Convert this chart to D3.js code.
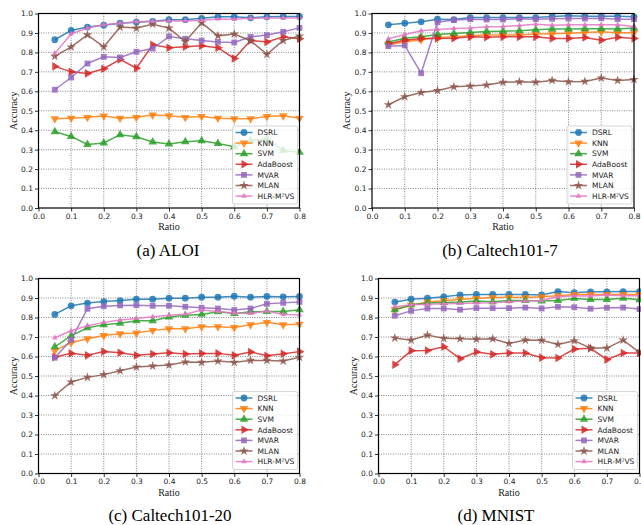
<!DOCTYPE html>
<html>
<head>
<meta charset="utf-8">
<script src="https://cdn.jsdelivr.net/npm/d3@7"></script>
<style>
  body { margin: 0; background: #fff; }
  .tick text { font-family: "DejaVu Sans", sans-serif; font-size: 7.5px; fill: #222; }
  .axisLabel { font-family: "Liberation Serif", serif; font-size: 10px; fill: #222; }
  .caption { font-family: "Liberation Serif", serif; font-size: 17px; fill: #000; }
  .legendText { font-family: "DejaVu Sans", sans-serif; font-size: 7.5px; fill: #222; }
</style>
</head>
<body>
<div id="chart"></div>
<script>
// Shared x values and method names
var ratios = [0.05, 0.10, 0.15, 0.20, 0.25, 0.30, 0.35, 0.40, 0.45, 0.50, 0.55, 0.60, 0.65, 0.70, 0.75, 0.80];
var methods = ["DSRL", "KNN", "SVM", "AdaBoost", "MVAR", "MLAN", "HLR-M²VS"];
var xTicks = [0.0, 0.1, 0.2, 0.3, 0.4, 0.5, 0.6, 0.7, 0.8];
var yTicks = [0.0, 0.1, 0.2, 0.3, 0.4, 0.5, 0.6, 0.7, 0.8, 0.9, 1.0];
var captions = ["(a) ALOI", "(b) Caltech101-7", "(c) Caltech101-20", "(d) MNIST"];

// Accuracy per method, same order as methods
var aloiAcc = [
  [0.865, 0.913, 0.930, 0.940, 0.950, 0.955, 0.960, 0.968, 0.968, 0.975, 0.983, 0.983, 0.978, 0.983, 0.985, 0.985],
  [0.459, 0.462, 0.466, 0.473, 0.462, 0.466, 0.478, 0.474, 0.466, 0.471, 0.462, 0.459, 0.459, 0.471, 0.474, 0.462],
  [0.392, 0.368, 0.327, 0.334, 0.377, 0.366, 0.339, 0.329, 0.341, 0.346, 0.332, 0.315, 0.346, 0.356, 0.296, 0.286],
  [0.728, 0.700, 0.692, 0.716, 0.764, 0.719, 0.839, 0.824, 0.829, 0.834, 0.824, 0.769, 0.861, 0.854, 0.880, 0.870],
  [0.608, 0.671, 0.743, 0.777, 0.774, 0.803, 0.820, 0.882, 0.870, 0.861, 0.854, 0.851, 0.880, 0.889, 0.906, 0.926],
  [0.780, 0.828, 0.890, 0.828, 0.930, 0.925, 0.945, 0.925, 0.856, 0.952, 0.885, 0.894, 0.860, 0.790, 0.861, 0.884],
  [0.795, 0.895, 0.925, 0.942, 0.950, 0.958, 0.960, 0.962, 0.962, 0.965, 0.972, 0.970, 0.975, 0.977, 0.977, 0.977]
];
var caltech7Acc = [
  [0.942, 0.950, 0.957, 0.971, 0.969, 0.979, 0.979, 0.979, 0.979, 0.979, 0.985, 0.988, 0.986, 0.986, 0.986, 0.983],
  [0.839, 0.853, 0.865, 0.877, 0.880, 0.885, 0.890, 0.890, 0.890, 0.894, 0.896, 0.899, 0.902, 0.906, 0.901, 0.901],
  [0.853, 0.873, 0.880, 0.892, 0.897, 0.902, 0.908, 0.909, 0.911, 0.916, 0.920, 0.920, 0.921, 0.921, 0.920, 0.925],
  [0.844, 0.863, 0.872, 0.872, 0.873, 0.880, 0.878, 0.880, 0.880, 0.880, 0.872, 0.872, 0.877, 0.863, 0.878, 0.872],
  [0.832, 0.836, 0.693, 0.955, 0.966, 0.971, 0.969, 0.969, 0.973, 0.971, 0.973, 0.974, 0.974, 0.976, 0.971, 0.971],
  [0.531, 0.572, 0.594, 0.604, 0.623, 0.627, 0.632, 0.646, 0.649, 0.647, 0.656, 0.649, 0.651, 0.668, 0.656, 0.661],
  [0.870, 0.892, 0.911, 0.918, 0.923, 0.925, 0.932, 0.933, 0.938, 0.945, 0.940, 0.942, 0.942, 0.942, 0.942, 0.933]
];
var caltech20Acc = [
  [0.816, 0.860, 0.874, 0.882, 0.887, 0.894, 0.894, 0.899, 0.899, 0.904, 0.904, 0.909, 0.904, 0.908, 0.906, 0.908],
  [0.630, 0.671, 0.691, 0.708, 0.717, 0.720, 0.734, 0.742, 0.742, 0.753, 0.753, 0.749, 0.763, 0.775, 0.763, 0.766],
  [0.650, 0.706, 0.747, 0.763, 0.771, 0.783, 0.783, 0.802, 0.811, 0.816, 0.829, 0.821, 0.829, 0.831, 0.831, 0.840],
  [0.597, 0.616, 0.606, 0.625, 0.619, 0.606, 0.613, 0.619, 0.613, 0.616, 0.616, 0.606, 0.623, 0.604, 0.614, 0.625],
  [0.594, 0.686, 0.845, 0.858, 0.862, 0.863, 0.860, 0.860, 0.855, 0.850, 0.846, 0.838, 0.846, 0.870, 0.875, 0.880],
  [0.399, 0.469, 0.493, 0.507, 0.527, 0.546, 0.551, 0.556, 0.572, 0.570, 0.577, 0.570, 0.580, 0.580, 0.577, 0.596],
  [0.696, 0.732, 0.758, 0.775, 0.787, 0.795, 0.804, 0.811, 0.817, 0.838, 0.831, 0.823, 0.821, 0.833, 0.816, 0.814]
];
var mnistAcc = [
  [0.879, 0.894, 0.899, 0.906, 0.916, 0.918, 0.918, 0.918, 0.918, 0.916, 0.933, 0.927, 0.932, 0.932, 0.933, 0.933],
  [0.840, 0.863, 0.879, 0.886, 0.894, 0.898, 0.903, 0.904, 0.903, 0.906, 0.911, 0.918, 0.918, 0.918, 0.918, 0.918],
  [0.840, 0.865, 0.874, 0.877, 0.879, 0.884, 0.881, 0.887, 0.887, 0.884, 0.887, 0.898, 0.892, 0.892, 0.899, 0.891],
  [0.558, 0.630, 0.631, 0.650, 0.589, 0.623, 0.611, 0.618, 0.618, 0.594, 0.592, 0.638, 0.642, 0.584, 0.618, 0.618],
  [0.809, 0.834, 0.846, 0.846, 0.840, 0.848, 0.848, 0.848, 0.851, 0.846, 0.855, 0.853, 0.845, 0.850, 0.851, 0.843],
  [0.695, 0.684, 0.710, 0.693, 0.691, 0.689, 0.691, 0.667, 0.684, 0.683, 0.662, 0.681, 0.643, 0.643, 0.684, 0.621],
  [0.855, 0.865, 0.868, 0.870, 0.872, 0.874, 0.875, 0.881, 0.884, 0.887, 0.906, 0.911, 0.910, 0.915, 0.911, 0.911]
];

var colors = ["#1f77b4", "#ff7f0e", "#2ca02c", "#d62728", "#9467bd", "#8c564b", "#e377c2"];
var shapes = [
  { type: d3.symbolCircle, size: 36, rot: 0 },
  { type: d3.symbolTriangle, size: 32, rot: 180 },
  { type: d3.symbolTriangle, size: 32, rot: 0 },
  { type: d3.symbolTriangle, size: 32, rot: 90 },
  { type: d3.symbolSquare, size: 34, rot: 0 },
  { type: d3.symbolStar, size: 28, rot: 0 },
  { type: d3.symbolTriangle, size: 14, rot: 0 }
];

var svgWidth = 641;
var svgHeight = 525;

// Each panel: axes box in page pixels
var panels = [
  { data: aloiAcc, left: 38.5, top: 13.5, width: 261, height: 194.5, capX: 168, capY: 256 },
  { data: caltech7Acc, left: 372, top: 13.5, width: 262, height: 194.5, capX: 500, capY: 256 },
  { data: caltech20Acc, left: 38.5, top: 278.5, width: 261, height: 195, capX: 170, capY: 521 },
  { data: mnistAcc, left: 378.5, top: 278.5, width: 261, height: 195, capX: 496, capY: 521 }
];

var svg = d3.select("#chart")
  .append("svg")
  .attr("width", svgWidth)
  .attr("height", svgHeight);

panels.forEach(function(p, pi) {
  var g = svg.append("g")
    .attr("transform", `translate(${p.left}, ${p.top})`);

  var xScale = d3.scaleLinear().domain([0, 0.8]).range([0, p.width]);
  var yScale = d3.scaleLinear().domain([0, 1]).range([p.height, 0]);

  // grid lines
  g.append("g")
    .selectAll("line")
    .data(xTicks.slice(1, -1))
    .enter()
    .append("line")
    .attr("x1", d => xScale(d)).attr("x2", d => xScale(d))
    .attr("y1", 0).attr("y2", p.height)
    .attr("stroke", "#444").attr("stroke-width", 0.8)
    .attr("stroke-dasharray", "1,1.4").attr("opacity", 0.8);

  g.append("g")
    .selectAll("line")
    .data(yTicks.slice(1, -1))
    .enter()
    .append("line")
    .attr("y1", d => yScale(d)).attr("y2", d => yScale(d))
    .attr("x1", 0).attr("x2", p.width)
    .attr("stroke", "#444").attr("stroke-width", 0.8)
    .attr("stroke-dasharray", "1,1.4").attr("opacity", 0.8);

  // axes
  var bottomAxis = d3.axisBottom(xScale).tickValues(xTicks).tickFormat(d3.format(".1f")).tickSize(3.5).tickPadding(2);
  var leftAxis = d3.axisLeft(yScale).tickValues(yTicks).tickFormat(d3.format(".1f")).tickSize(3.5).tickPadding(2);

  var xa = g.append("g").attr("transform", `translate(0, ${p.height})`).call(bottomAxis);
  var ya = g.append("g").call(leftAxis);
  [xa, ya].forEach(function(a) {
    a.select(".domain").remove();
    a.selectAll(".tick line").attr("stroke", "#000").attr("stroke-width", 0.8);
  });

  // lines and markers
  var line = d3.line()
    .x((d, i) => xScale(ratios[i]))
    .y(d => yScale(d));

  p.data.forEach(function(series, si) {
    g.append("path")
      .datum(series)
      .attr("d", line)
      .attr("fill", "none")
      .attr("stroke", colors[si])
      .attr("stroke-width", 1.5)
      .attr("opacity", 0.85);

    var sym = d3.symbol().type(shapes[si].type).size(shapes[si].size);
    g.selectAll(null)
      .data(series)
      .enter()
      .append("path")
      .attr("d", sym)
      .attr("transform", (d, i) => `translate(${xScale(ratios[i])}, ${yScale(d)}) rotate(${shapes[si].rot})`)
      .attr("fill", colors[si])
      .attr("opacity", 0.85);
  });

  // frame
  g.append("rect")
    .attr("width", p.width).attr("height", p.height)
    .attr("fill", "none").attr("stroke", "#000").attr("stroke-width", 1.2);

  // axis titles
  g.append("text")
    .attr("class", "axisLabel")
    .attr("x", p.width / 2)
    .attr("y", p.height + 22)
    .attr("text-anchor", "middle")
    .text("Ratio");

  g.append("text")
    .attr("class", "axisLabel")
    .attr("transform", `translate(-22, ${p.height / 2}) rotate(-90)`)
    .attr("text-anchor", "middle")
    .text("Accuracy");

  // legend
  var legW = 65, legH = 78;
  var leg = g.append("g")
    .attr("transform", `translate(${p.width - legW - 2}, ${p.height - legH - 4})`);
  leg.append("rect")
    .attr("width", legW).attr("height", legH)
    .attr("rx", 2)
    .attr("fill", "#fff").attr("fill-opacity", 0.8)
    .attr("stroke", "#ccc").attr("stroke-width", 0.8);

  methods.forEach(function(m, si) {
    var yy = 6.5 + si * 10.6;
    leg.append("line")
      .attr("x1", 3).attr("x2", 20)
      .attr("y1", yy).attr("y2", yy)
      .attr("stroke", colors[si]).attr("stroke-width", 1.5).attr("opacity", 0.85);
    leg.append("path")
      .attr("d", d3.symbol().type(shapes[si].type).size(shapes[si].size))
      .attr("transform", `translate(11.5, ${yy}) rotate(${shapes[si].rot})`)
      .attr("fill", colors[si]).attr("opacity", 0.85);
    leg.append("text")
      .attr("class", "legendText")
      .attr("x", 25).attr("y", yy + 2.7)
      .text(m);
  });

  // caption
  svg.append("text")
    .attr("class", "caption")
    .attr("x", p.capX)
    .attr("y", p.capY)
    .attr("text-anchor", "middle")
    .text(captions[pi]);
});
</script>
</body>
</html>
